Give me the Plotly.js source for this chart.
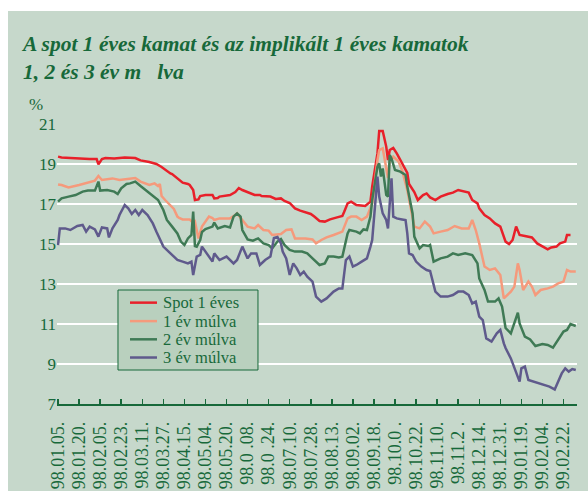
<!DOCTYPE html>
<html><head><meta charset="utf-8">
<script src="https://cdn.plot.ly/plotly-3.0.1.min.js"></script>
<style>
html,body{margin:0;padding:0;background:#ffffff;width:588px;height:491px;overflow:hidden}
#chart{position:absolute;left:8px;top:11px;width:580px;height:480px}
</style>
</head><body><div id="chart"></div>
<script>
// X axis: trading-day index, labelled every 12 trading days
const tickDays = [0,12,24,36,48,60,72,84,96,108,120,132,144,156,168,180,192,204,216,228,240,252,264,276,288];
const tickLabels = ["98.01.05.","98.01.20.","98.02.05.","98.02.23.","98.03.11.","98.03.27.","98.04.15.","98.05.04.","98.05.20.","98.0 .08.","98.0 .24.","98.07.10.","98.07.28.","98.08.13.","98.09.02.","98.09.18.","98.10.0 .","98.10.22.","98.11.10.","98.11.2 .","98.12.14.","98.12.31.","99.01.19.","99.02.04.","99.02.22."];

const seriesNames = ["Spot 1 éves","1 év múlva","2 év múlva","3 év múlva"];

const spotDay = [0,2,7,12,18,22,23,25,27,32,38,44,47,52,56,59,62,64,65,68,71,74,75,77,78,80,81,84,88,89,91,92,95,98,101,102,103,105,108,110,112,115,116,121,124,127,129,132,135,138,144,146,149,152,155,159,162,163,165,167,170,175,178,179,182,183,185,187,188,189,191,193,196,199,200,203,205,208,210,212,215,218,222,225,228,231,234,236,239,240,243,246,249,252,255,257,259,261,262,263,266,270,273,276,279,281,284,286,289,290,292];
const spotRate = [19.37,19.33,19.3,19.27,19.25,19.25,18.98,19.25,19.3,19.27,19.32,19.3,19.18,19.1,19.0,18.85,18.65,18.53,18.5,18.3,18.07,18.0,17.95,17.7,17.2,17.23,17.4,17.45,17.45,17.28,17.3,17.37,17.4,17.45,17.6,17.7,17.8,17.7,17.6,17.53,17.45,17.45,17.4,17.37,17.25,17.28,17.15,17.05,16.78,16.67,16.5,16.37,16.15,16.12,16.23,16.33,16.4,16.6,17.03,17.12,16.95,16.9,17.12,17.87,19.53,20.65,20.65,19.87,19.2,19.7,19.8,19.53,19.03,18.55,18.0,17.6,17.2,17.45,17.53,17.33,17.2,17.37,17.5,17.57,17.7,17.62,17.57,17.2,17.03,16.78,16.45,16.28,16.03,15.87,15.12,15.0,15.2,15.87,15.7,15.45,15.4,15.33,15.03,14.9,14.73,14.83,14.87,15.03,15.12,15.45,15.45];

const fwd1Day = [0,2,6,12,21,23,25,31,35,41,44,47,52,55,57,58,59,61,64,66,68,69,71,75,77,78,79,80,82,84,86,88,89,92,98,101,102,105,108,112,114,117,120,122,127,130,133,135,141,145,147,150,153,157,159,162,165,167,170,173,176,179,182,183,185,187,188,189,191,194,196,199,202,203,206,209,212,214,218,222,226,230,234,236,238,240,243,246,249,252,254,258,260,262,263,265,268,270,272,275,279,282,285,288,290,292,295];
const fwd1Rate = [17.98,17.95,17.83,17.95,18.17,18.4,18.2,18.28,18.2,18.28,18.3,18.12,17.95,18.03,17.9,18.0,17.4,17.2,16.95,16.75,16.37,16.3,16.23,16.23,16.05,16.12,15.7,15.28,15.87,16.1,16.37,16.3,16.2,16.28,16.28,16.45,16.53,16.2,15.87,15.78,15.95,15.7,15.67,15.45,15.5,15.7,15.73,15.28,15.28,15.23,15.03,15.2,15.33,15.45,15.53,15.62,16.28,16.37,16.37,16.2,16.37,17.03,19.2,19.7,19.78,18.9,18.3,19.2,19.37,19.12,18.7,17.7,16.2,15.87,15.78,16.12,15.87,15.53,15.62,15.7,15.9,15.78,15.78,16.2,15.7,15.03,13.87,13.7,13.78,13.45,12.28,12.62,12.87,14.03,13.7,12.7,13.12,12.87,12.45,12.7,12.78,12.87,13.03,13.12,13.7,13.62,13.62];

const fwd2Day = [0,2,6,10,14,17,21,23,24,28,32,34,36,39,41,44,47,51,54,57,60,62,65,68,70,72,74,76,77,78,79,81,82,84,88,89,91,95,98,100,102,104,105,108,111,114,117,120,122,125,127,129,132,135,139,142,145,149,152,154,157,160,162,165,166,170,172,174,176,178,179,182,183,184,185,187,188,189,190,192,195,198,199,202,203,206,208,211,212,214,218,222,225,228,232,236,239,240,243,245,249,251,253,255,258,260,262,263,266,269,272,276,279,282,285,288,290,292,295];
const fwd2Rate = [17.12,17.28,17.37,17.45,17.62,17.67,17.67,18.12,17.67,17.7,17.62,17.5,17.78,18.0,18.03,18.12,17.9,17.62,17.45,17.2,16.7,16.2,15.87,15.53,15.12,14.95,15.28,15.45,16.62,14.9,14.87,15.2,15.6,15.75,15.87,16.07,15.78,15.9,15.83,16.37,16.53,16.37,15.7,15.23,15.17,15.28,15.03,14.95,14.78,15.12,15.25,14.95,14.7,14.62,14.62,14.53,14.28,13.95,14.03,14.37,14.37,14.33,14.37,15.53,15.7,15.62,15.53,15.73,15.7,16.37,17.2,18.87,19.03,18.37,18.78,17.45,17.37,19.45,19.28,18.7,18.62,18.45,17.87,16.53,15.37,14.78,14.95,14.9,14.95,14.12,14.28,14.37,14.53,14.45,14.53,14.45,14.03,13.28,12.7,12.12,12.12,12.28,11.87,10.8,10.53,11.03,11.57,11.03,10.37,10.23,9.9,10.0,9.95,9.82,10.2,10.62,10.7,11.0,10.9];

const fwd3Day = [0,1,4,7,11,14,16,18,21,23,25,28,29,31,34,35,38,40,42,44,46,48,51,54,56,58,60,63,65,68,71,74,76,77,79,81,82,84,85,88,89,92,96,100,102,105,108,110,113,115,118,121,123,125,127,128,130,132,134,136,138,140,142,144,145,147,150,153,157,160,162,164,166,168,170,173,176,178,179,182,183,185,187,188,190,191,193,196,198,199,200,202,204,207,210,212,215,218,222,225,228,231,234,236,238,240,242,244,247,250,252,254,255,258,260,263,264,266,268,271,273,277,280,283,285,287,289,291,293,295];
const fwd3Rate = [14.95,15.78,15.78,15.7,15.9,15.95,15.62,15.87,15.73,15.37,15.83,15.78,15.33,15.78,16.2,16.45,16.95,16.78,16.5,16.7,16.45,16.7,16.45,16.03,15.62,15.28,14.87,14.62,14.45,14.2,14.12,14.03,14.12,13.45,14.37,14.45,14.87,14.62,14.53,14.12,14.53,14.2,14.37,14.03,14.2,14.87,14.28,14.53,14.53,13.95,14.2,14.37,15.3,15.35,15.03,14.62,14.28,13.45,14.03,13.78,13.45,13.62,13.37,13.2,13.12,12.37,12.12,12.28,12.62,12.78,12.78,14.2,14.37,13.87,13.95,14.12,14.28,14.87,15.2,18.37,17.37,16.53,16.2,15.78,18.28,16.37,16.28,16.23,16.2,15.53,14.53,14.45,14.12,13.87,13.7,13.65,12.62,12.37,12.37,12.45,12.62,12.62,12.45,12.03,12.12,11.37,11.2,10.28,10.12,10.53,10.7,10.03,9.8,9.28,8.78,8.12,8.78,8.87,8.2,8.12,8.03,7.95,7.87,7.73,8.12,8.53,8.78,8.62,8.75,8.7];

const colors = ["#e8202a","#f59a7c","#3f7a55","#5f5a8c"];
const G = "#17693a";
const BG = "#c6d8cb";
const FONT = "Liberation Serif, Times New Roman, serif";

const xs = [spotDay, fwd1Day, fwd2Day, fwd3Day];
const ys = [spotRate, fwd1Rate, fwd2Rate, fwd3Rate];
const traces = seriesNames.map((n, i) => ({
  type: "scatter", mode: "lines", name: n,
  x: xs[i], y: ys[i],
  line: {color: colors[i], width: 2.5, shape: "linear"},
  hoverinfo: "skip"
}));

// manual legend (box, sample lines, labels) in paper coordinates
const legRowsY = [0.362, 0.296, 0.231, 0.166];
const shapes = [{
  type: "rect", xref: "paper", yref: "paper",
  x0: 0.1173, x1: 0.3865, y0: 0.1214, y1: 0.4071,
  fillcolor: "#b9d0be", line: {color: G, width: 1}, layer: "above"
}];
const annotations = [];
seriesNames.forEach((n, i) => {
  shapes.push({type: "line", xref: "paper", yref: "paper",
    x0: 0.1404, x1: 0.1923, y0: legRowsY[i], y1: legRowsY[i],
    line: {color: colors[i], width: 2.5}, layer: "above"});
  annotations.push({xref: "paper", yref: "paper", x: 0.2, y: legRowsY[i],
    xanchor: "left", yanchor: "middle", showarrow: false, text: n,
    font: {family: FONT, size: 16.5, color: G}});
});
annotations.push({xref: "paper", yref: "paper", x: -0.0577, y: 1.068,
  xanchor: "left", yanchor: "middle", showarrow: false, text: "%",
  font: {family: FONT, size: 17, color: G}});

const layout = {
  width: 580, height: 480,
  margin: {l: 49, r: 11, t: 113, b: 87, pad: 0},
  paper_bgcolor: BG, plot_bgcolor: BG,
  showlegend: false,
  title: {
    text: "A spot 1 éves kamat és az implikált 1 éves kamatok<br>1, 2 és 3 év m\u00a0\u00a0\u00a0lva",
    xref: "container", yref: "container", x: 0.0259, xanchor: "left",
    y: 0.916, yanchor: "top",
    font: {family: FONT, size: 21.5, color: G, weight: "bold", style: "italic"}
  },
  xaxis: {
    range: [-0.6, 295.7], tickvals: tickDays, ticktext: tickLabels,
    tickangle: -90, ticks: "inside", ticklen: 5, tickwidth: 1.5, tickcolor: G,
    showline: true, linecolor: G, linewidth: 1.5, showgrid: false, zeroline: false,
    tickfont: {family: FONT, size: 18, color: G}, ticklabelstandoff: 9, fixedrange: true
  },
  yaxis: {
    range: [7, 21], tick0: 7, dtick: 2, showgrid: true, gridcolor: "#ffffff", gridwidth: 2,
    zeroline: false, showline: false, ticks: "",
    tickfont: {family: FONT, size: 17, color: G}, ticklabelstandoff: 13.5, fixedrange: true
  },
  shapes: shapes,
  annotations: annotations
};

Plotly.newPlot("chart", traces, layout, {displayModeBar: false, staticPlot: true});
</script>
</body></html>
